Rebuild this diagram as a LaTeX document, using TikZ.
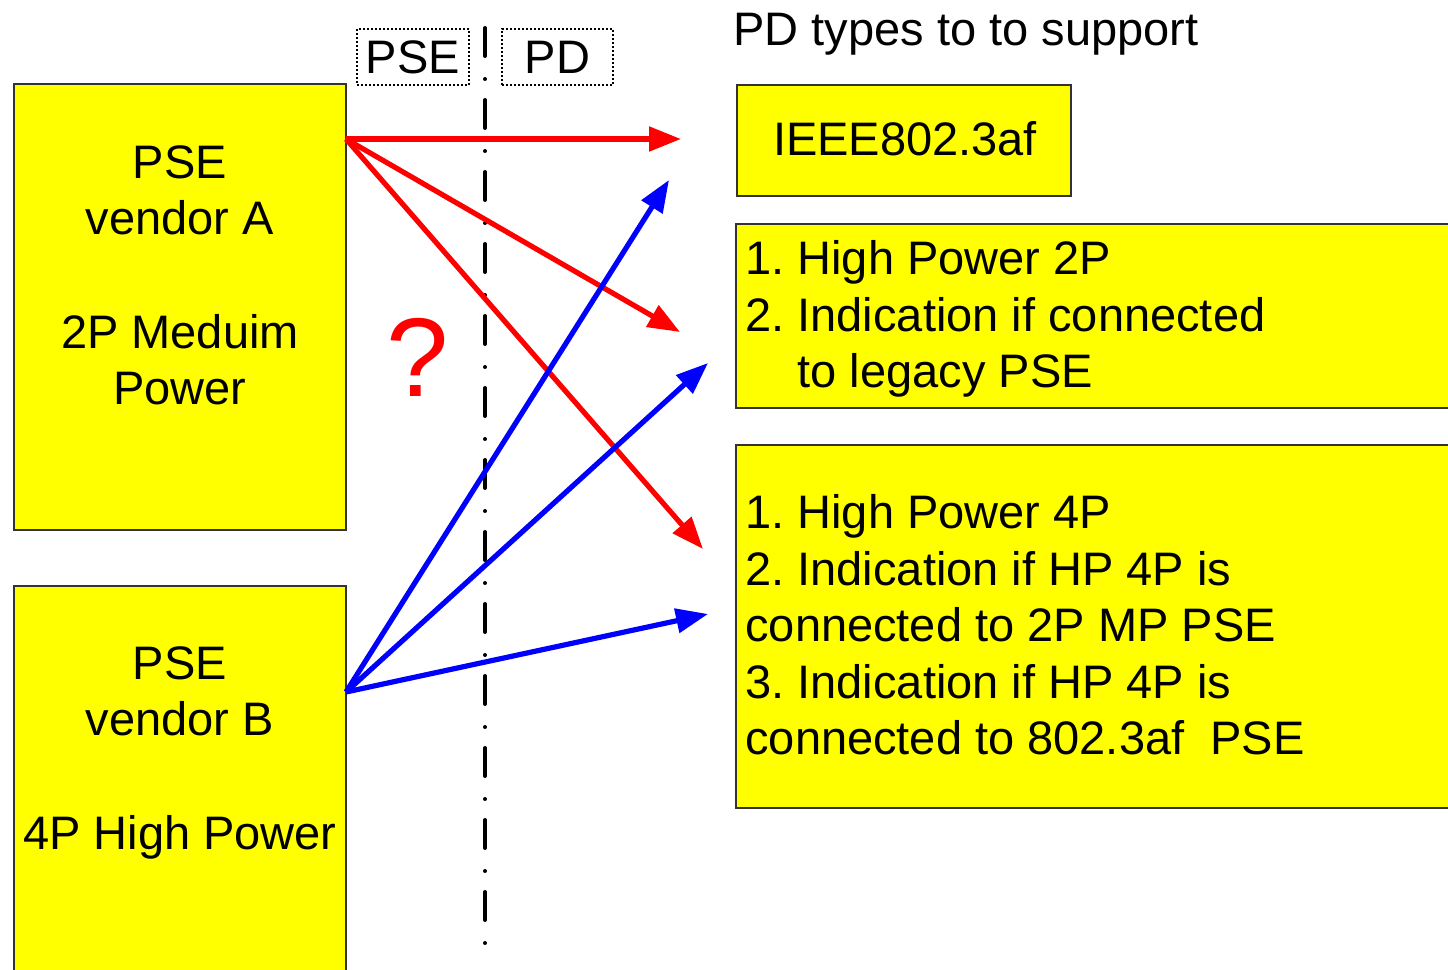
\documentclass[tikz,border=0pt]{standalone}
\usepackage{fontspec}
\setmainfont{Liberation Sans}
\usetikzlibrary{arrows.meta,positioning}
\definecolor{boxyellow}{RGB}{255,255,0}
\definecolor{arrred}{RGB}{255,0,0}
\definecolor{arrblue}{RGB}{0,0,255}
\frenchspacing

\begin{document}
\begin{tikzpicture}[x=0.5pt,y=-0.5pt,
  box/.style={draw=black!80,line width=0.8pt,fill=boxyellow,inner sep=0pt},
  txt/.style={font=\fontsize{23.5}{28.3}\selectfont,inner sep=0pt},
  tag/.style={draw,line width=0.7pt,dash pattern=on 1pt off 1pt,inner sep=0pt,
    minimum height=28pt,font=\fontsize{23.5}{28.3}\selectfont},
  redarr/.style={arrred,line width=2.6pt,-{Triangle[length=16pt,width=12pt]}},
  bluearr/.style={arrblue,line width=2.6pt,-{Triangle[length=16pt,width=12pt]}},
  divider/.style={line width=2pt,line cap=round,
    dash pattern=on 14pt off 11.5pt on 0pt off 10.5pt}]
  \useasboundingbox (0,0) rectangle (1448,970);
  \clip (0,0) rectangle (1448,970);

  % PSE side
  \node[box,minimum width=166pt,minimum height=223pt] (vendA) at (180,307) {};
  \node[box,minimum width=166pt,minimum height=207pt] (vendB) at (180,793) {};
  \node[txt,align=center,anchor=north] (txtA) at (180,145)
    {PSE\\vendor A\\[28.3pt]2P Meduim\\Power};
  \node[txt,align=center,anchor=north] (txtB) at (180,646)
    {PSE\\vendor B\\[28.3pt]4P High Power};

  % PD side
  \node[txt,anchor=base west] (title) at (733,45) {PD types to to support};
  \node[box,minimum width=167pt,minimum height=55.5pt] (af) at (904,140.5) {};
  \node[txt] (afTxt) at (905,139) {IEEE802.3af};
  \node[box,minimum width=372pt,minimum height=92pt] (hp2) at (1108,316) {};
  \node[txt,align=left,anchor=north west] (hp2Txt) at (745,240)
    {1. High Power 2P\\2. Indication if connected\\\phantom{2. }to legacy PSE};
  \node[box,minimum width=372pt,minimum height=181.5pt] (hp4) at (1108,626.5) {};
  \node[txt,align=left,anchor=north west] (hp4Txt) at (745,494)
    {1. High Power 4P\\2. Indication if HP 4P is\\connected to 2P MP PSE\\
     3. Indication if HP 4P is\\connected to 802.3af\ \ PSE};

  % PSE | PD split
  \node[tag,minimum width=56pt] (pseTag) at (413,57) {PSE};
  \node[tag,minimum width=55.5pt] (pdTag) at (557.5,57) {PD};
  \coordinate (divTop) at (485,28);
  \coordinate (divBot) at (485,950);
  \draw[divider] (divTop) -- (divBot);

  \node[arrred,inner sep=0pt,font=\fontsize{56}{60}\selectfont] (ask) at (418,357) {?};

  % connections
  \coordinate (srcA) at (346,139);
  \coordinate (srcB) at (346,692);
  \coordinate (inAf) at (681,139);
  \coordinate (inHp2) at (680,332);
  \coordinate (inHp4) at (703,549);
  \coordinate (inAfB) at (669,180);
  \coordinate (inHp2B) at (708,363);
  \coordinate (inHp4B) at (708,614);
  \draw[redarr] (srcA) -- (inAf);
  \draw[redarr] (srcA) -- (inHp2);
  \draw[redarr] (srcA) -- (inHp4);
  \draw[bluearr] (srcB) -- (inAfB);
  \draw[bluearr] (srcB) -- (inHp2B);
  \draw[bluearr] (srcB) -- (inHp4B);
\end{tikzpicture}
\end{document}
